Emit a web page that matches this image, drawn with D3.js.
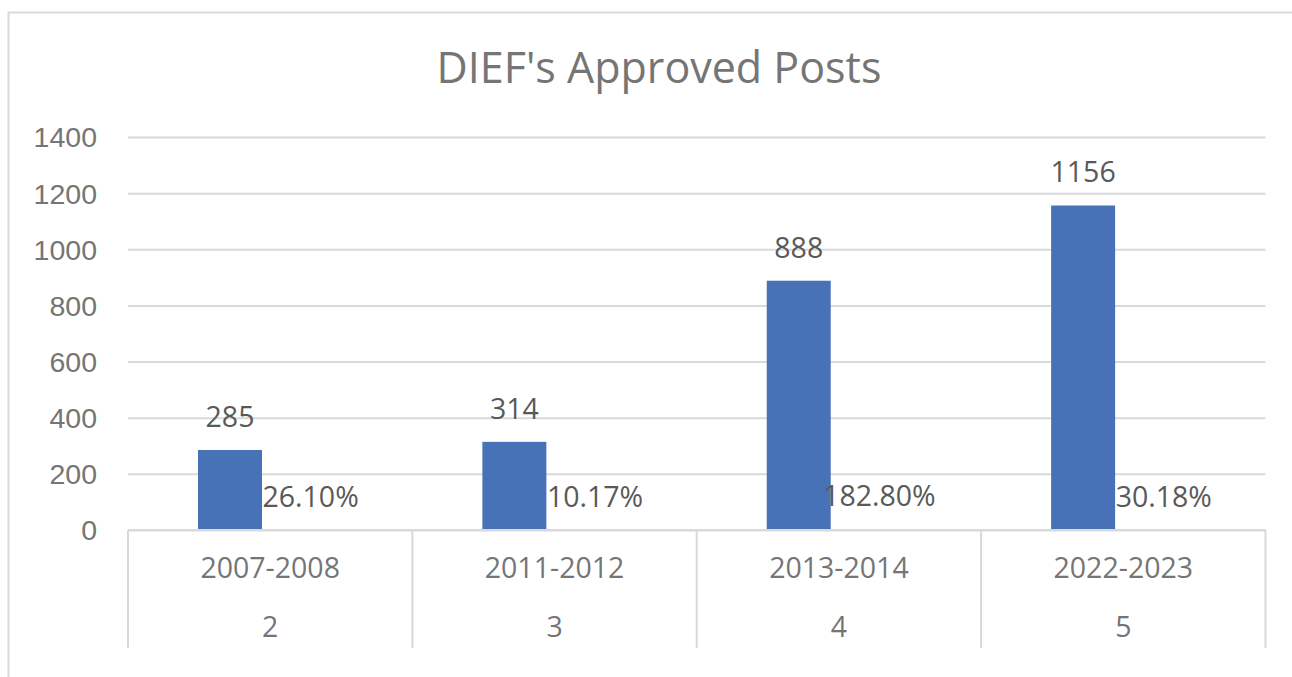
<!DOCTYPE html>
<html>
<head>
<meta charset="utf-8">
<script src="https://cdn.jsdelivr.net/npm/d3@7"></script>
<style>
  html, body { margin: 0; padding: 0; background: #fff; }
  svg { display: block; font-family: "Open Sans", "DejaVu Sans", sans-serif; }
</style>
</head>
<body>
<svg id="container" width="1292" height="677"></svg>
<script>
// values
const categories = ['2007-2008', '2011-2012', '2013-2014', '2022-2023'];
const subCategories = ['2', '3', '4', '5'];
const posts = [285, 314, 888, 1156];
const growth = [0.2610, 0.1017, 1.8280, 0.3018];
const yTicks = [0, 200, 400, 600, 800, 1000, 1200, 1400];
const title = "DIEF's Approved Posts";

const svg = d3.select('#container');
const width = Number.parseInt(svg.attr('width'));
const height = Number.parseInt(svg.attr('height'));

const plot = { left: 128, right: 1265.5, top: 137, bottom: 530 };
const axisBottom = 648;
const barColor = '#4872b8';
const gridColor = '#d9d9d9';
const axisText = '#757575';
const labelText = '#595959';
const fontSize = 28.5;

// chart frame
svg.append('rect')
  .attr('x', 8.5)
  .attr('y', 12.5)
  .attr('width', width + 10)
  .attr('height', height + 10)
  .attr('fill', 'none')
  .attr('stroke', gridColor)
  .attr('stroke-width', 2);

svg.append('text')
  .attr('x', 659)
  .attr('y', 83)
  .attr('text-anchor', 'middle')
  .attr('font-size', 43)
  .attr('fill', axisText)
  .text(title);

const y = d3.scaleLinear()
  .domain([0, 1400])
  .range([plot.bottom, plot.top]);

const x = d3.scaleBand()
  .domain(categories)
  .range([plot.left, plot.right]);

const series = ['posts', 'growth'];
const xInner = d3.scaleBand()
  .domain(series)
  .range([0, x.bandwidth()])
  .paddingInner(0)
  .paddingOuter(1.222)
  .align(0.4476);

// gridlines + y labels
const yAxis = svg.append('g')
  .attr('transform', `translate(${plot.left},0)`)
  .call(d3.axisLeft(y)
    .tickValues(yTicks)
    .tickFormat(d3.format('d'))
    .tickSize(-(plot.right - plot.left))
    .tickPadding(31));

yAxis.select('.domain').remove();
yAxis.selectAll('.tick line')
  .attr('stroke', gridColor)
  .attr('stroke-width', 2);
yAxis.selectAll('.tick text')
  .attr('font-size', fontSize)
  .attr('fill', axisText)
  .attr('font-family', null)
  .attr('dy', '0.35em');

// bars
const rows = categories.map((c, i) => ({ category: c, sub: subCategories[i], posts: posts[i], growth: growth[i] }));

svg.selectAll('rect.bar')
  .data(rows)
  .enter()
  .append('rect')
  .attr('class', 'bar')
  .attr('x', d => x(d.category) + xInner('posts'))
  .attr('y', d => y(d.posts))
  .attr('width', xInner.bandwidth())
  .attr('height', d => y(0) - y(d.posts))
  .attr('fill', barColor);

svg.selectAll('rect.growth')
  .data(rows)
  .enter()
  .append('rect')
  .attr('class', 'growth')
  .attr('x', d => x(d.category) + xInner('growth'))
  .attr('y', d => y(d.growth))
  .attr('width', xInner.bandwidth())
  .attr('height', d => y(0) - y(d.growth))
  .attr('fill', '#ed7d31');

// category axis (two levels)
const catAxis = svg.append('g');
catAxis.append('line')
  .attr('x1', plot.left)
  .attr('x2', plot.right)
  .attr('y1', plot.bottom)
  .attr('y2', plot.bottom)
  .attr('stroke', gridColor)
  .attr('stroke-width', 2);

const edges = categories.map(c => x(c)).concat([plot.right]);
catAxis.selectAll('line.sep')
  .data(edges)
  .enter()
  .append('line')
  .attr('class', 'sep')
  .attr('x1', d => d)
  .attr('x2', d => d)
  .attr('y1', plot.bottom)
  .attr('y2', axisBottom)
  .attr('stroke', gridColor)
  .attr('stroke-width', 2);

catAxis.selectAll('text.cat')
  .data(rows)
  .enter()
  .append('text')
  .attr('class', 'cat')
  .attr('x', d => x(d.category) + x.bandwidth() / 2)
  .attr('y', 578)
  .attr('text-anchor', 'middle')
  .attr('font-size', fontSize)
  .attr('fill', axisText)
  .text(d => d.category);

catAxis.selectAll('text.sub')
  .data(rows)
  .enter()
  .append('text')
  .attr('class', 'sub')
  .attr('x', d => x(d.category) + x.bandwidth() / 2)
  .attr('y', 637)
  .attr('text-anchor', 'middle')
  .attr('font-size', fontSize)
  .attr('fill', axisText)
  .text(d => d.sub);

// data labels
svg.selectAll('text.postLabel')
  .data(rows)
  .enter()
  .append('text')
  .attr('class', 'postLabel')
  .attr('x', d => x(d.category) + xInner('posts') + xInner.bandwidth() / 2)
  .attr('y', d => y(d.posts) - 23)
  .attr('text-anchor', 'middle')
  .attr('font-size', fontSize)
  .attr('fill', labelText)
  .text(d => d.posts);

const pct = d3.format('.2%');
svg.selectAll('text.growthLabel')
  .data(rows)
  .enter()
  .append('text')
  .attr('class', 'growthLabel')
  .attr('x', d => x(d.category) + xInner('growth') + xInner.bandwidth() * 0.76)
  .attr('y', d => y(d.growth) - 23)
  .attr('text-anchor', 'middle')
  .attr('font-size', fontSize)
  .attr('fill', labelText)
  .text(d => pct(d.growth));
</script>
</body>
</html>
